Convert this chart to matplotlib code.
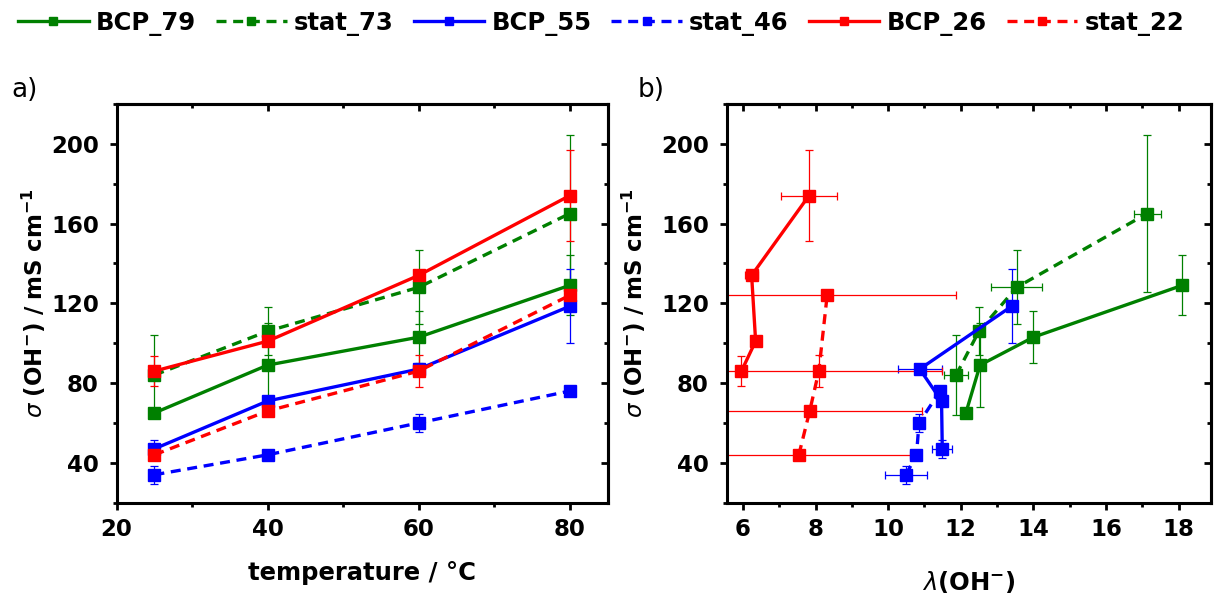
import matplotlib
matplotlib.use("Agg")
import matplotlib.pyplot as plt
from matplotlib.ticker import MultipleLocator

# the reference text is a wide bold sans, DejaVu Sans Bold matches its extents best
plt.rcParams["font.family"] = "DejaVu Sans"
plt.rcParams["font.weight"] = "bold"
plt.rcParams["axes.labelweight"] = "bold"
plt.rcParams["mathtext.fontset"] = "custom"
plt.rcParams["mathtext.rm"] = "DejaVu Sans:weight=normal"
plt.rcParams["mathtext.it"] = "DejaVu Sans:style=oblique:weight=normal"
plt.rcParams["mathtext.bf"] = "DejaVu Sans:weight=bold"

### Data ###
temp = [25, 40, 60, 80]

names = ["BCP_79", "stat_73", "BCP_55", "stat_46", "BCP_26", "stat_22"]
colors = ["#008000", "#008000", "#0000ff", "#0000ff", "#ff0000", "#ff0000"]
dashed = [False, True, False, True, False, True]

# conductivity sigma(OH-) / mS cm-1 and its error
sigma_bcp79 = [65, 89, 103, 129]
sigma_stat73 = [84, 106, 128, 165]
sigma_bcp55 = [47, 71, 87, 118.5]
sigma_stat46 = [34, 44, 60, 76]
sigma_bcp26 = [86, 101, 134, 174]
sigma_stat22 = [44, 66, 86, 124]

sigerr_bcp79 = [2, 21, 13, 15]
sigerr_stat73 = [20, 12, 18.5, 39.5]
sigerr_bcp55 = [4.5, 2, 2, 18.5]
sigerr_stat46 = [4.5, 1.5, 4.5, 1.5]
sigerr_bcp26 = [7.5, 1.5, 1.5, 23]
sigerr_stat22 = [1.5, 1.5, 8, 1.5]

# hydration number lambda(OH-) and its error
lam_bcp79 = [12.14, 12.53, 14.0, 18.1]
lam_stat73 = [11.87, 12.5, 13.54, 17.13]
lam_bcp55 = [11.49, 11.47, 10.87, 13.40]
lam_stat46 = [10.49, 10.78, 10.85, 11.43]
lam_bcp26 = [5.96, 6.35, 6.24, 7.82]
lam_stat22 = [7.54, 7.84, 8.09, 8.32]

lamerr_bcp79 = [0.1, 0.1, 0.1, 0.1]
lamerr_stat73 = [0.33, 0.1, 0.71, 0.37]
lamerr_bcp55 = [0.28, 0.1, 0.6, 0.1]
lamerr_stat46 = [0.58, 0.05, 0.1, 0.05]
lamerr_bcp26 = [0.1, 0.05, 0.18, 0.77]
lamerr_stat22 = [3.06, 3.08, 3.38, 3.55]

sigmas = [sigma_bcp79, sigma_stat73, sigma_bcp55, sigma_stat46, sigma_bcp26, sigma_stat22]
sigerrs = [sigerr_bcp79, sigerr_stat73, sigerr_bcp55, sigerr_stat46, sigerr_bcp26, sigerr_stat22]
lams = [lam_bcp79, lam_stat73, lam_bcp55, lam_stat46, lam_bcp26, lam_stat22]
lamerrs = [lamerr_bcp79, lamerr_stat73, lamerr_bcp55, lamerr_stat46, lamerr_bcp26, lamerr_stat22]

ylab = r"$\sigma\ \mathbf{(OH^{-})\ /\ mS\ cm^{-1}}$"
dash = (0, (3.0, 2.0))


def style_axes(ax, xmaj, xmin):
    for s in ax.spines.values():
        s.set_linewidth(2.2)
    ax.xaxis.set_major_locator(MultipleLocator(xmaj))
    ax.xaxis.set_minor_locator(MultipleLocator(xmin))
    ax.yaxis.set_major_locator(MultipleLocator(40))
    ax.yaxis.set_minor_locator(MultipleLocator(20))
    ax.tick_params(which="major", direction="out", length=5.3, width=2, labelsize=16.5)
    ax.tick_params(which="minor", direction="out", length=3, width=2)
    ax.tick_params(axis="x", pad=6)
    ax.tick_params(axis="y", pad=7.5)
    # mirrored ticks pointing inwards on top and right
    top = ax.secondary_xaxis("top")
    top.xaxis.set_major_locator(MultipleLocator(xmaj))
    top.xaxis.set_minor_locator(MultipleLocator(xmin))
    top.tick_params(which="major", direction="in", length=5.3, width=2, labeltop=False)
    top.tick_params(which="minor", direction="in", length=3, width=2)
    top.spines["top"].set_linewidth(2.2)
    right = ax.secondary_yaxis("right")
    right.yaxis.set_major_locator(MultipleLocator(40))
    right.yaxis.set_minor_locator(MultipleLocator(20))
    right.tick_params(which="major", direction="in", length=5.3, width=2, labelright=False)
    right.tick_params(which="minor", direction="in", length=3, width=2)
    right.spines["right"].set_linewidth(2.2)


fig = plt.figure(figsize=(12.15, 5.97), dpi=100)
ax1 = fig.add_axes([0.096, 0.158, 0.404, 0.668])
ax2 = fig.add_axes([0.598, 0.158, 0.399, 0.668])

handles = []
for i in range(len(names)):
    ls = dash if dashed[i] else "-"
    ax1.errorbar(temp, sigmas[i], yerr=sigerrs[i], fmt="none", ecolor=colors[i],
                 elinewidth=0.9, capsize=3, capthick=0.9, zorder=2)
    ln, = ax1.plot(temp, sigmas[i], color=colors[i], ls=ls, lw=2.4, marker="s",
                   ms=9, label=names[i], zorder=3)
    handles.append(ln)

    ax2.errorbar(lams[i], sigmas[i], yerr=sigerrs[i], xerr=lamerrs[i], fmt="none",
                 ecolor=colors[i], elinewidth=0.9, capsize=3, capthick=0.9, zorder=2)
    ax2.plot(lams[i], sigmas[i], color=colors[i], ls=ls, lw=2.4, marker="s",
             ms=9, zorder=3)

ax1.set_xlim(20, 85)
ax1.set_ylim(20, 220)
style_axes(ax1, 20, 10)
ax1.set_xlabel("temperature / °C", fontsize=17.5, labelpad=14)
ax1.set_ylabel(ylab, fontsize=16.5, labelpad=2)

ax2.set_xlim(5.55, 18.9)
ax2.set_ylim(20, 220)
style_axes(ax2, 2, 1)
ax2.set_xlabel(r"$\lambda\mathbf{(OH^{-})}$", fontsize=17.5, labelpad=20)
ax2.set_ylabel(ylab, fontsize=16.5, labelpad=9)

fig.text(0.009, 0.849, "a)", fontsize=19, fontweight="normal", va="center")
fig.text(0.525, 0.849, "b)", fontsize=19, fontweight="normal", va="center")

fig.legend(handles, names, loc="center left", bbox_to_anchor=(0.015, 0.961),
           ncol=6, frameon=False, fontsize=17.5, handlelength=2.9, handletextpad=0.3,
           columnspacing=0.82, markerscale=0.65, borderaxespad=0, borderpad=0)

fig.savefig("out.png", dpi=100)
